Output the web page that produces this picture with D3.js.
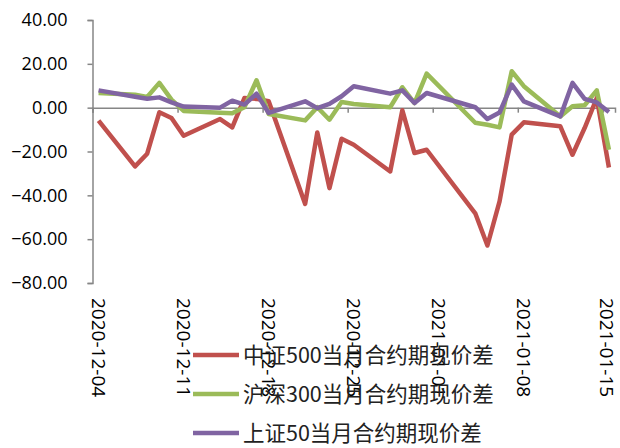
<!DOCTYPE html>
<html>
<head>
<meta charset="utf-8">
<script src="https://cdn.jsdelivr.net/npm/d3@7"></script>
<style>
  html, body { margin: 0; padding: 0; background: #fff; }
  svg { display: block; }
</style>
</head>
<body>
<svg id="chart" width="620" height="448"></svg>
<script>
const dates = ["2020-12-04","2020-12-07","2020-12-08","2020-12-09","2020-12-10","2020-12-11",
  "2020-12-14","2020-12-15","2020-12-16","2020-12-17","2020-12-18",
  "2020-12-21","2020-12-22","2020-12-23","2020-12-24","2020-12-25",
  "2020-12-28","2020-12-29","2020-12-30","2020-12-31",
  "2021-01-04","2021-01-05","2021-01-06","2021-01-07","2021-01-08",
  "2021-01-11","2021-01-12","2021-01-13","2021-01-14","2021-01-15"];
const csi500 = [-5.9,-26.8,-21.0,-2.1,-4.7,-12.8,-5.2,-9.0,4.4,4.0,2.9,-43.9,-11.3,-36.7,-14.2,-16.9,-29.1,-1.2,-20.7,-19.2,-48.2,-62.9,-42.8,-12.3,-6.7,-8.5,-21.5,-9.3,4.4,-27.3];
const hs300 = [6.7,5.9,4.9,11.3,3.7,-1.5,-2.3,-2.6,0.2,12.5,-2.9,-5.8,0.2,-5.5,2.6,1.7,0.2,9.3,2.1,15.5,-6.9,-7.8,-9.0,16.6,9.8,-4.0,0.6,1.1,7.9,-19.2];
const sz50 = [7.9,5.0,4.1,4.7,2.4,0.5,0.0,3.2,1.4,6.4,-2.4,2.9,-0.2,1.7,5.2,9.8,6.4,7.9,2.1,6.7,0.2,-5.2,-2.2,10.5,2.9,-4.0,11.3,4.0,2.4,-2.0];
const seriesNames = ["中证500当月合约期现价差","沪深300当月合约期现价差","上证50当月合约期现价差"];
const seriesColors = ["#C0504D","#9BBB59","#8064A2"];
const yTicks = [-80,-60,-40,-20,0,20,40];
const xTickLabels = ["2020-12-04","2020-12-11","2020-12-18","2020-12-25","2021-01-01","2021-01-08","2021-01-15"];

const parse = d3.timeParse("%Y-%m-%d");
const svg = d3.select("#chart");
const plotLeft = 92.5, plotRight = 615, plotTop = 20, plotBottom = 283;

const x = d3.scaleTime()
  .domain([parse("2020-12-04"), d3.timeDay.offset(parse("2021-01-15"), 1)])
  .range([plotLeft, plotRight]);
const y = d3.scaleLinear().domain([-80, 40]).range([plotBottom, plotTop]);
const mid = d => d3.timeHour.offset(d, 12);

const axisColor = "#868686";
const numFont = "'Open Sans', 'Liberation Sans', sans-serif";

// Y axis
const yAxis = svg.append("g")
  .attr("transform", `translate(${plotLeft},0)`)
  .call(d3.axisLeft(y).tickValues(yTicks).tickSize(5).tickPadding(20).tickFormat(d3.format(".2f")));
yAxis.select(".domain").attr("stroke", axisColor).attr("stroke-width", 1.5);
yAxis.selectAll(".tick line").attr("stroke", axisColor).attr("stroke-width", 1.5);
yAxis.selectAll(".tick text").attr("font-family", numFont).attr("font-size", 18).attr("fill", "#000");

// X axis at zero line
const tickDates = xTickLabels.map(parse);
const xAxis = svg.append("g")
  .attr("transform", `translate(0,${y(0)})`)
  .call(d3.axisBottom(x).tickValues(tickDates).tickSize(5).tickFormat(""));
xAxis.select(".domain").attr("stroke", axisColor).attr("stroke-width", 1.5);
xAxis.selectAll(".tick line").attr("stroke", axisColor).attr("stroke-width", 1.5);

// X labels (rotated, at bottom)
svg.append("g").selectAll("text")
  .data(tickDates)
  .join("text")
  .attr("transform", d => `translate(${Math.min(x(mid(d)), 607)},298) rotate(90)`)
  .attr("dy", "0.35em")
  .attr("text-anchor", "start")
  .attr("font-family", numFont)
  .attr("font-size", 19)
  .attr("fill", "#000")
  .text((d, i) => xTickLabels[i]);

// Lines
const allSeries = [csi500, hs300, sz50];
const line = d3.line()
  .x((d, i) => x(mid(parse(dates[i]))))
  .y(d => y(d));
allSeries.forEach((vals, k) => {
  svg.append("path")
    .datum(vals)
    .attr("d", line)
    .attr("fill", "none")
    .attr("stroke", seriesColors[k])
    .attr("stroke-width", 4.5)
    .attr("stroke-linejoin", "round")
    .attr("stroke-linecap", "butt");
});

// Legend
const legend = svg.append("g");
seriesNames.forEach((name, k) => {
  const cy = 355 + k * 39;
  legend.append("line")
    .attr("x1", 193).attr("x2", 239).attr("y1", cy).attr("y2", cy)
    .attr("stroke", seriesColors[k]).attr("stroke-width", 4.5);
  legend.append("text")
    .attr("x", 243).attr("y", cy).attr("dy", "0.35em")
    .attr("font-family", "'Noto Sans CJK SC', sans-serif")
    .attr("font-size", 21.5)
    .attr("fill", "#222")
    .text(name);
});
</script>
</body>
</html>
